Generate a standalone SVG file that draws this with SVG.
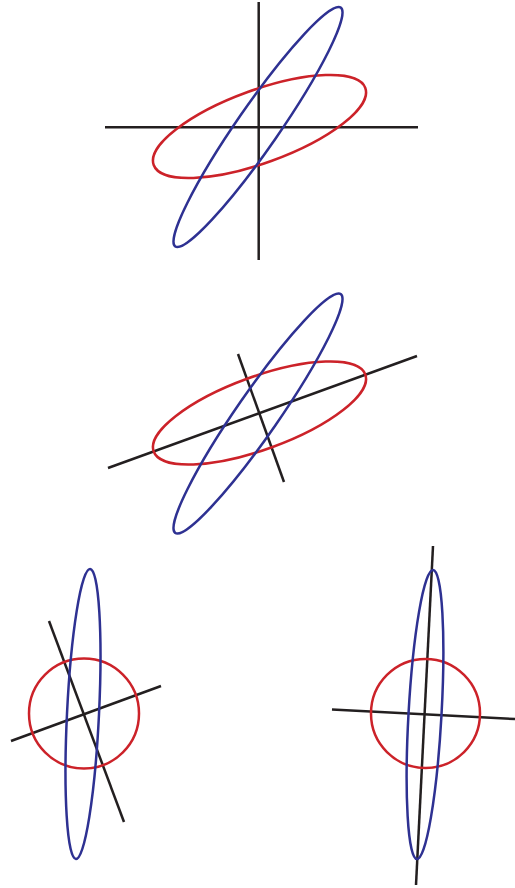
<svg xmlns="http://www.w3.org/2000/svg" width="515" height="888" viewBox="0 0 515 888">
<style>
.ax{stroke:#231f20;stroke-width:2.5;fill:none}
.r{stroke:#cc2229;stroke-width:2.5;fill:none}
.b{stroke:#2e3192;stroke-width:2.5;fill:none}
</style>
<rect width="515" height="888" fill="#fff"/>
<g id="panel1">
<line class="ax" x1="105" y1="127.3" x2="418" y2="127.3"/>
<line class="ax" x1="258.7" y1="2" x2="258.7" y2="260"/>
<ellipse class="r" cx="259.5" cy="126.5" rx="112.6" ry="36.4" transform="rotate(-20 259.5 126.5)"/>
<ellipse class="b" cx="258" cy="127" rx="145.3" ry="21" transform="rotate(-55.3 258 127)"/>
</g>
<g id="panel2">
<line class="ax" x1="108" y1="468" x2="417" y2="356"/>
<line class="ax" x1="238" y1="354" x2="284" y2="482"/>
<ellipse class="r" cx="259.5" cy="413" rx="112.6" ry="36.4" transform="rotate(-20 259.5 413)"/>
<ellipse class="b" cx="258" cy="413.5" rx="145.3" ry="21" transform="rotate(-55.3 258 413.5)"/>
</g>
<g id="panel3">
<line class="ax" x1="11" y1="741" x2="161" y2="686"/>
<line class="ax" x1="49" y1="621" x2="124" y2="822"/>
<circle class="r" cx="84" cy="713.5" r="55"/>
<ellipse class="b" cx="83" cy="714" rx="16" ry="145.2" transform="rotate(2.8 83 714)"/>
</g>
<g id="panel4">
<line class="ax" x1="332" y1="709.5" x2="515" y2="719"/>
<line class="ax" x1="433" y1="546" x2="416" y2="885"/>
<circle class="r" cx="425.5" cy="713.5" r="54.5"/>
<ellipse class="b" cx="425" cy="714.5" rx="16.5" ry="144.8" transform="rotate(3.2 425 714.5)"/>
</g>
</svg>
